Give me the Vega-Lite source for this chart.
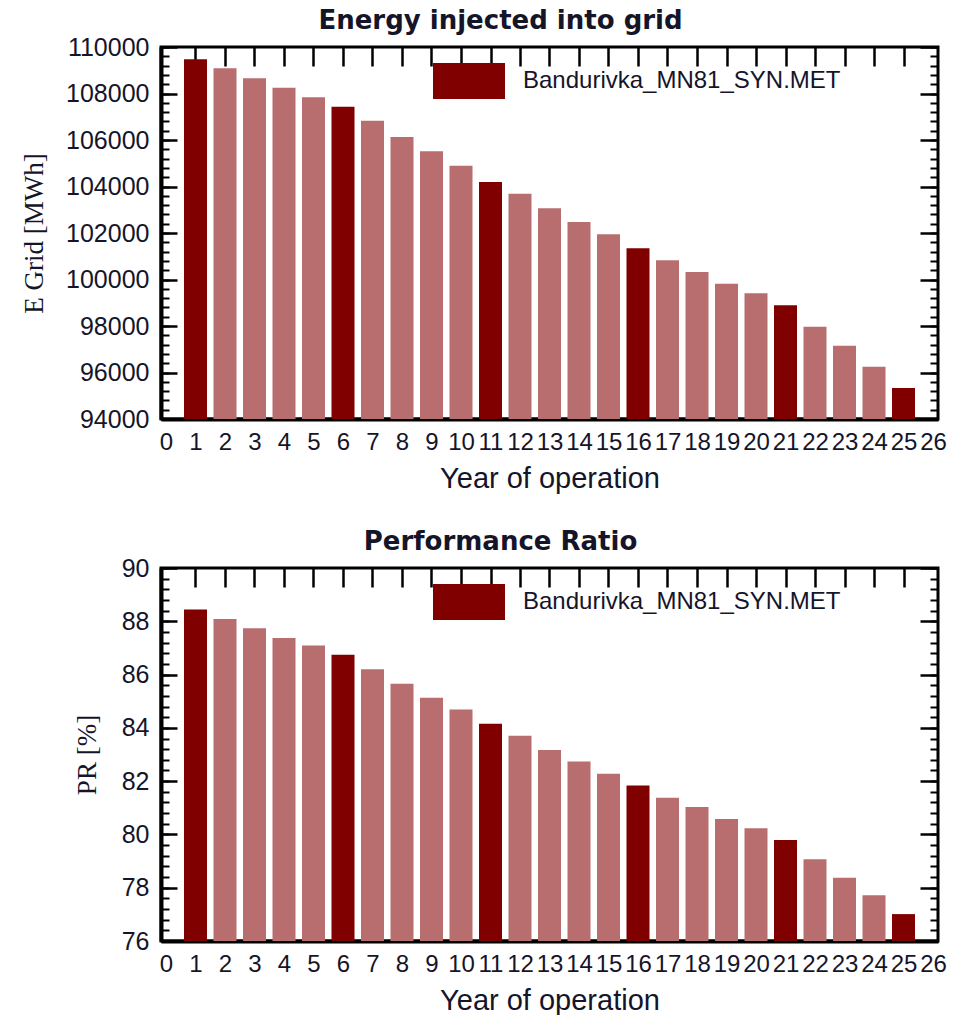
{
  "$schema": "https://vega.github.io/schema/vega-lite/v6.json",
  "background": "white",
  "padding": {"top": 6, "left": 19, "right": 5, "bottom": 5},
  "spacing": 32,
  "config": {
    "view": {"stroke": "black", "strokeWidth": 3},
    "axis": {"grid": false}
  },
  "resolve": {"legend": {"color": "independent"}},
  "datasets": {
    "energy": [
      {"year": 1, "egrid": 109470, "group": "Bandurivka_MN81_SYN.MET"},
      {"year": 2, "egrid": 109083, "group": "intermediate"},
      {"year": 3, "egrid": 108653, "group": "intermediate"},
      {"year": 4, "egrid": 108250, "group": "intermediate"},
      {"year": 5, "egrid": 107835, "group": "intermediate"},
      {"year": 6, "egrid": 107434, "group": "Bandurivka_MN81_SYN.MET"},
      {"year": 7, "egrid": 106832, "group": "intermediate"},
      {"year": 8, "egrid": 106129, "group": "intermediate"},
      {"year": 9, "egrid": 105513, "group": "intermediate"},
      {"year": 10, "egrid": 104896, "group": "intermediate"},
      {"year": 11, "egrid": 104194, "group": "Bandurivka_MN81_SYN.MET"},
      {"year": 12, "egrid": 103692, "group": "intermediate"},
      {"year": 13, "egrid": 103061, "group": "intermediate"},
      {"year": 14, "egrid": 102473, "group": "intermediate"},
      {"year": 15, "egrid": 101943, "group": "intermediate"},
      {"year": 16, "egrid": 101341, "group": "Bandurivka_MN81_SYN.MET"},
      {"year": 17, "egrid": 100824, "group": "intermediate"},
      {"year": 18, "egrid": 100323, "group": "intermediate"},
      {"year": 19, "egrid": 99821, "group": "intermediate"},
      {"year": 20, "egrid": 99405, "group": "intermediate"},
      {"year": 21, "egrid": 98889, "group": "Bandurivka_MN81_SYN.MET"},
      {"year": 22, "egrid": 97971, "group": "intermediate"},
      {"year": 23, "egrid": 97154, "group": "intermediate"},
      {"year": 24, "egrid": 96251, "group": "intermediate"},
      {"year": 25, "egrid": 95333, "group": "Bandurivka_MN81_SYN.MET"}
    ],
    "pr": [
      {"year": 1, "pr": 88.44, "group": "Bandurivka_MN81_SYN.MET"},
      {"year": 2, "pr": 88.09, "group": "intermediate"},
      {"year": 3, "pr": 87.74, "group": "intermediate"},
      {"year": 4, "pr": 87.37, "group": "intermediate"},
      {"year": 5, "pr": 87.09, "group": "intermediate"},
      {"year": 6, "pr": 86.74, "group": "Bandurivka_MN81_SYN.MET"},
      {"year": 7, "pr": 86.20, "group": "intermediate"},
      {"year": 8, "pr": 85.66, "group": "intermediate"},
      {"year": 9, "pr": 85.13, "group": "intermediate"},
      {"year": 10, "pr": 84.69, "group": "intermediate"},
      {"year": 11, "pr": 84.15, "group": "Bandurivka_MN81_SYN.MET"},
      {"year": 12, "pr": 83.70, "group": "intermediate"},
      {"year": 13, "pr": 83.17, "group": "intermediate"},
      {"year": 14, "pr": 82.74, "group": "intermediate"},
      {"year": 15, "pr": 82.28, "group": "intermediate"},
      {"year": 16, "pr": 81.84, "group": "Bandurivka_MN81_SYN.MET"},
      {"year": 17, "pr": 81.38, "group": "intermediate"},
      {"year": 18, "pr": 81.03, "group": "intermediate"},
      {"year": 19, "pr": 80.58, "group": "intermediate"},
      {"year": 20, "pr": 80.23, "group": "intermediate"},
      {"year": 21, "pr": 79.79, "group": "Bandurivka_MN81_SYN.MET"},
      {"year": 22, "pr": 79.07, "group": "intermediate"},
      {"year": 23, "pr": 78.37, "group": "intermediate"},
      {"year": 24, "pr": 77.72, "group": "intermediate"},
      {"year": 25, "pr": 77.01, "group": "Bandurivka_MN81_SYN.MET"}
    ]
  },
  "vconcat": [
    {
      "data": {"name": "energy"},
      "width": 777,
      "height": 372,
      "title": {"text": "Energy injected into grid", "font": "DejaVu Sans", "fontWeight": "bold", "fontSize": 26, "color": "#15152a", "anchor": "middle", "frame": "group", "dx": -49, "offset": 1},
      "layer": [
        {
          "mark": {"type": "bar", "width": 23, "clip": true},
          "encoding": {
            "x": {"field": "year", "type": "quantitative", "scale": {"domain": [0, 26], "nice": false},
              "axis": {"orient": "bottom", "values": [0,1,2,3,4,5,6,7,8,9,10,11,12,13,14,15,16,17,18,19,20,21,22,23,24,25,26], "format": "d",
                "labelFont": "Liberation Sans", "labelFontSize": 24, "labelColor": "#15152a", "labelOverlap": false, "labelFlush": false, "labelBound": false, "labelPadding": 11,
                "ticks": false, "domain": true, "domainColor": "black", "domainWidth": 4,
                "title": "Year of operation", "titleFont": "Liberation Sans", "titleFontSize": 29, "titleFontWeight": "normal", "titleColor": "#15152a", "titlePadding": 10}},
            "y": {"field": "egrid", "type": "quantitative", "scale": {"domain": [94000, 110000], "nice": false, "zero": false},
              "axis": {"orient": "left", "values": [94000,96000,98000,100000,102000,104000,106000,108000,110000], "format": "d",
                "labelFont": "Liberation Sans", "labelFontSize": 25, "labelColor": "#15152a", "labelPadding": 12, "labelOverlap": false,
                "ticks": false, "domain": true, "domainColor": "black", "domainWidth": 4,
                "title": "E Grid [MWh]", "titleFont": "Liberation Serif", "titleFontSize": 27, "titleFontWeight": "normal", "titleColor": "#15152a", "titlePadding": 17}},
            "y2": {"datum": 94000},
            "color": {"field": "group", "type": "nominal",
              "scale": {"domain": ["Bandurivka_MN81_SYN.MET", "intermediate"], "range": ["#800000", "#b86e6e"]},
              "legend": {"orient": "none", "legendX": 272, "legendY": -2, "values": ["Bandurivka_MN81_SYN.MET"], "title": null,
                "symbolType": "M-1,-0.5H1V0.5H-1Z", "symbolSize": 5184, "symbolStrokeWidth": 0, "symbolOpacity": 1,
                "labelFont": "Liberation Sans", "labelFontSize": 24, "labelColor": "#15152a", "labelOffset": 18, "labelLimit": 500, "padding": 0}}
          }
        },
        {
          "mark": {"type": "bar", "width": 23, "opacity": 0, "clip": true},
          "encoding": {
            "x": {"field": "year", "type": "quantitative",
              "axis": {"orient": "bottom", "offset": -372, "values": [1,2,3,4,5,6,7,8,9,10,11,12,13,14,15,16,17,18,19,20,21,22,23,24,25], "labels": false, "domain": false, "ticks": true, "tickSize": 19, "tickWidth": 2.5, "tickColor": "black", "title": null}},
            "y": {"field": "egrid", "type": "quantitative",
              "axis": {"orient": "right", "offset": -777, "values": [94000,96000,98000,100000,102000,104000,106000,108000,110000], "labels": false, "domain": false, "ticks": true, "tickSize": 16, "tickWidth": 2.5, "tickColor": "black", "title": null}},
            "y2": {"datum": 94000}
          }
        },
        {
          "mark": {"type": "bar", "width": 23, "opacity": 0, "clip": true},
          "encoding": {
            "x": {"field": "year", "type": "quantitative", "axis": null},
            "y": {"field": "egrid", "type": "quantitative",
              "axis": {"orient": "right", "offset": -777, "values": [94000,94400,94800,95200,95600,96000,96400,96800,97200,97600,98000,98400,98800,99200,99600,100000,100400,100800,101200,101600,102000,102400,102800,103200,103600,104000,104400,104800,105200,105600,106000,106400,106800,107200,107600,108000,108400,108800,109200,109600,110000], "labels": false, "domain": false, "ticks": true, "tickSize": 8, "tickWidth": 2, "tickColor": "black", "title": null}},
            "y2": {"datum": 94000}
          }
        },
        {
          "mark": {"type": "bar", "width": 23, "opacity": 0, "clip": true},
          "encoding": {
            "x": {"field": "year", "type": "quantitative", "axis": null},
            "y": {"field": "egrid", "type": "quantitative",
              "axis": {"orient": "left", "offset": -777, "values": [94000,96000,98000,100000,102000,104000,106000,108000,110000], "labels": false, "domain": false, "ticks": true, "tickSize": 18, "tickWidth": 2.5, "tickColor": "black", "title": null}},
            "y2": {"datum": 94000}
          }
        },
        {
          "mark": {"type": "bar", "width": 23, "opacity": 0, "clip": true},
          "encoding": {
            "x": {"field": "year", "type": "quantitative", "axis": null},
            "y": {"field": "egrid", "type": "quantitative",
              "axis": {"orient": "left", "offset": -777, "values": [94000,94400,94800,95200,95600,96000,96400,96800,97200,97600,98000,98400,98800,99200,99600,100000,100400,100800,101200,101600,102000,102400,102800,103200,103600,104000,104400,104800,105200,105600,106000,106400,106800,107200,107600,108000,108400,108800,109200,109600,110000], "labels": false, "domain": false, "ticks": true, "tickSize": 8, "tickWidth": 2, "tickColor": "black", "title": null}},
            "y2": {"datum": 94000}
          }
        }
      ],
      "resolve": {"axis": {"x": "independent", "y": "independent"}}
    },
    {
      "data": {"name": "pr"},
      "width": 777,
      "height": 373,
      "title": {"text": "Performance Ratio", "font": "DejaVu Sans", "fontWeight": "bold", "fontSize": 26, "color": "#15152a", "anchor": "middle", "frame": "group", "dx": -49, "offset": 1},
      "layer": [
        {
          "mark": {"type": "bar", "width": 23, "clip": true},
          "encoding": {
            "x": {"field": "year", "type": "quantitative", "scale": {"domain": [0, 26], "nice": false},
              "axis": {"orient": "bottom", "values": [0,1,2,3,4,5,6,7,8,9,10,11,12,13,14,15,16,17,18,19,20,21,22,23,24,25,26], "format": "d",
                "labelFont": "Liberation Sans", "labelFontSize": 24, "labelColor": "#15152a", "labelOverlap": false, "labelFlush": false, "labelBound": false, "labelPadding": 11,
                "ticks": false, "domain": true, "domainColor": "black", "domainWidth": 4,
                "title": "Year of operation", "titleFont": "Liberation Sans", "titleFontSize": 29, "titleFontWeight": "normal", "titleColor": "#15152a", "titlePadding": 10}},
            "y": {"field": "pr", "type": "quantitative", "scale": {"domain": [76, 90], "nice": false, "zero": false},
              "axis": {"orient": "left", "values": [76,78,80,82,84,86,88,90], "format": "d",
                "labelFont": "Liberation Sans", "labelFontSize": 25, "labelColor": "#15152a", "labelPadding": 12, "labelOverlap": false,
                "ticks": false, "domain": true, "domainColor": "black", "domainWidth": 4,
                "title": "PR [%]", "titleFont": "Liberation Serif", "titleFontSize": 27, "titleFontWeight": "normal", "titleColor": "#15152a", "titlePadding": 20}},
            "y2": {"datum": 76},
            "color": {"field": "group", "type": "nominal",
              "scale": {"domain": ["Bandurivka_MN81_SYN.MET", "intermediate"], "range": ["#800000", "#b86e6e"]},
              "legend": {"orient": "none", "legendX": 272, "legendY": -2, "values": ["Bandurivka_MN81_SYN.MET"], "title": null,
                "symbolType": "M-1,-0.5H1V0.5H-1Z", "symbolSize": 5184, "symbolStrokeWidth": 0, "symbolOpacity": 1,
                "labelFont": "Liberation Sans", "labelFontSize": 24, "labelColor": "#15152a", "labelOffset": 18, "labelLimit": 500, "padding": 0}}
          }
        },
        {
          "mark": {"type": "bar", "width": 23, "opacity": 0, "clip": true},
          "encoding": {
            "x": {"field": "year", "type": "quantitative",
              "axis": {"orient": "bottom", "offset": -373, "values": [1,2,3,4,5,6,7,8,9,10,11,12,13,14,15,16,17,18,19,20,21,22,23,24,25], "labels": false, "domain": false, "ticks": true, "tickSize": 19, "tickWidth": 2.5, "tickColor": "black", "title": null}},
            "y": {"field": "pr", "type": "quantitative",
              "axis": {"orient": "right", "offset": -777, "values": [76,78,80,82,84,86,88,90], "labels": false, "domain": false, "ticks": true, "tickSize": 16, "tickWidth": 2.5, "tickColor": "black", "title": null}},
            "y2": {"datum": 76}
          }
        },
        {
          "mark": {"type": "bar", "width": 23, "opacity": 0, "clip": true},
          "encoding": {
            "x": {"field": "year", "type": "quantitative", "axis": null},
            "y": {"field": "pr", "type": "quantitative",
              "axis": {"orient": "right", "offset": -777, "values": [76,76.4,76.8,77.2,77.6,78,78.4,78.8,79.2,79.6,80,80.4,80.8,81.2,81.6,82,82.4,82.8,83.2,83.6,84,84.4,84.8,85.2,85.6,86,86.4,86.8,87.2,87.6,88,88.4,88.8,89.2,89.6,90], "labels": false, "domain": false, "ticks": true, "tickSize": 8, "tickWidth": 2, "tickColor": "black", "title": null}},
            "y2": {"datum": 76}
          }
        },
        {
          "mark": {"type": "bar", "width": 23, "opacity": 0, "clip": true},
          "encoding": {
            "x": {"field": "year", "type": "quantitative", "axis": null},
            "y": {"field": "pr", "type": "quantitative",
              "axis": {"orient": "left", "offset": -777, "values": [76,78,80,82,84,86,88,90], "labels": false, "domain": false, "ticks": true, "tickSize": 18, "tickWidth": 2.5, "tickColor": "black", "title": null}},
            "y2": {"datum": 76}
          }
        },
        {
          "mark": {"type": "bar", "width": 23, "opacity": 0, "clip": true},
          "encoding": {
            "x": {"field": "year", "type": "quantitative", "axis": null},
            "y": {"field": "pr", "type": "quantitative",
              "axis": {"orient": "left", "offset": -777, "values": [76,76.4,76.8,77.2,77.6,78,78.4,78.8,79.2,79.6,80,80.4,80.8,81.2,81.6,82,82.4,82.8,83.2,83.6,84,84.4,84.8,85.2,85.6,86,86.4,86.8,87.2,87.6,88,88.4,88.8,89.2,89.6,90], "labels": false, "domain": false, "ticks": true, "tickSize": 8, "tickWidth": 2, "tickColor": "black", "title": null}},
            "y2": {"datum": 76}
          }
        }
      ],
      "resolve": {"axis": {"x": "independent", "y": "independent"}}
    }
  ]
}
